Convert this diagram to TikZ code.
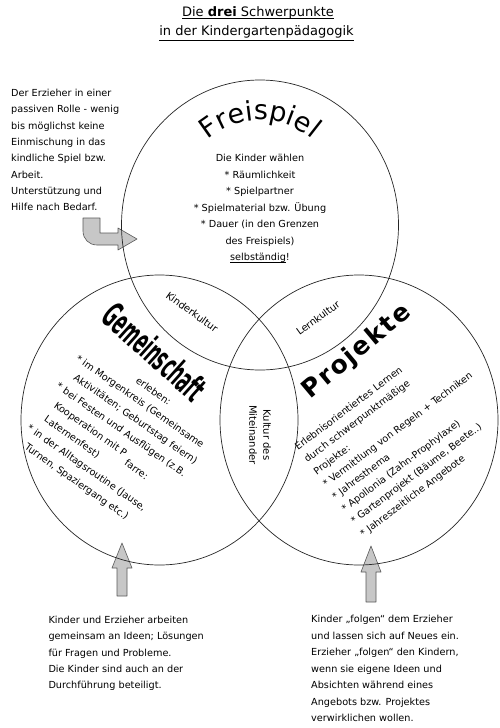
\documentclass[tikz,border=0pt]{standalone}
\usepackage{graphicx}
\usepackage{fontspec}
\setmainfont{DejaVu Sans}
\usetikzlibrary{decorations.text}
\newcommand\bodyfont{\fontsize{9.7}{16}\selectfont}
\newcommand\myuline[2][-1.8pt]{\setbox0\hbox{#2}\rlap{\rule[#1]{\wd0}{0.7pt}}#2}
\begin{document}
\begin{tikzpicture}[x=1pt,y=1pt,
  ring/.style={draw=black!85,line width=0.7pt},
  body/.style={font=\bodyfont,inner sep=0pt},
  lbl/.style={font=\fontsize{10}{14}\selectfont,inner sep=0pt},
  grayarrow/.style={fill=black!22,draw=black!65,line width=0.6pt,line join=round}]
\useasboundingbox (0,0) rectangle (500,-728);
\fill[white] (0,0) rectangle (500,-728);

% title
\node[font=\fontsize{13}{15}\selectfont,inner sep=0pt,anchor=base] (title1) at (258,-16.5) {\myuline[-2.5pt]{Die \textbf{drei} Schwerpunkte}};
\node[font=\fontsize{13}{15}\selectfont,inner sep=0pt,anchor=base] (title2) at (256.5,-35.5) {\myuline[-5pt]{in der Kindergartenpädagogik}};

% top-left text
\foreach \t [count=\i from 0] in {{Der Erzieher in einer},{passiven Rolle - wenig},{bis möglichst keine},{Einmischung in das},{kindliche Spiel bzw.},{Arbeit.},{Unterstützung und},{Hilfe nach Bedarf.}}
  \node[body,anchor=base west] (tl\i) at (11,{-96.5-16.3*\i}) {\t};

% Freispiel
\path[decorate,decoration={text along path,text={|\fontsize{27}{27}\selectfont|Freispiel},text align=center}]
  (260,-200) ++(132:80) arc[start angle=132,end angle=48,radius=80];
\foreach \t [count=\i from 0] in {{Die Kinder wählen},{* Räumlichkeit},{* Spielpartner},{* Spielmaterial bzw. Übung},{* Dauer (in den Grenzen},{des Freispiels)},{\myuline{selbständig}!}}
  \node[body,anchor=base] (fs\i) at (260,{-161.5-16.5*\i}) {\t};

% intersection labels
\node[lbl,rotate=-36] (kik) at (192,-312) {Kinderkultur};
\node[lbl,rotate=36] (lek) at (318,-318) {Lernkultur};
\node[lbl,rotate=-90,align=center] (kdm) at (260,-435) {Kultur des\\Miteinander};

% Gemeinschaft
\node[inner sep=0pt,rotate=-42] (gemT) at (155,-352) {\scalebox{0.46}[1]{\fontsize{35}{35}\selectfont\bfseries Gemeinschaft}};
\begin{scope}[shift={(75,-360)},rotate=-35]
  \node[body,anchor=base west,rotate=-35] (g0) at (62,16) {erleben:};
  \node[body,anchor=base west,rotate=-35] (g1) at (0,0) {* im Morgenkreis (Gemeinsame};
  \node[body,anchor=base west,rotate=-35] (g2) at (9,-17) {Aktivitäten; Geburtstag feiern)};
  \node[body,anchor=base west,rotate=-35] (g3) at (0,-34) {* bei Festen und Ausflügen (z.B.};
  \node[body,anchor=base west,rotate=-35] (g4) at (9,-51) {Kooperation mit P};
  \node[body,anchor=base west,rotate=-35] (g4b) at (100,-58) {farre:};
  \node[body,anchor=base west,rotate=-35] (g5) at (9,-68) {Laternenfest)};
  \node[body,anchor=base west,rotate=-35] (g6) at (0,-85) {* in der Alltagsroutine (Jause,};
  \node[body,anchor=base west,rotate=-35] (g7) at (9,-102) {Turnen, Spaziergang etc.)};
\end{scope}

% Projekte
\node[inner sep=0pt,rotate=40,font=\fontsize{25}{25}\selectfont\bfseries\addfontfeatures{LetterSpace=8}] (proT) at (357,-352) {Projekte};
\begin{scope}[shift={(298,-450.6)},rotate=37]
  \foreach \t [count=\i from 0] in {{Erlebnisorientiertes Lernen},{durch schwerpunktmäßige},{Projekte:},{* Vermittlung von Regeln + Techniken},{* Jahresthema},{* Apollonia (Zahn-Prophylaxe)},{* Gartenprojekt (Bäume, Beete..)},{* Jahreszeitliche Angebote}}
    \node[body,anchor=base west,rotate=37] (p\i) at (0,{-15.5*\i}) {\t};
\end{scope}

% bottom texts
\foreach \t [count=\i from 0] in {{Kinder und Erzieher arbeiten},{gemeinsam an Ideen; Lösungen},{für Fragen und Probleme.},{Die Kinder sind auch an der},{Durchführung beteiligt.}}
  \node[body,anchor=base west] (bl\i) at (48.3,{-623.5-16.25*\i}) {\t};
\foreach \t [count=\i from 0] in {{Kinder „folgen“ dem Erzieher},{und lassen sich auf Neues ein.},{Erzieher „folgen“ den Kindern,},{wenn sie eigene Ideen und},{Absichten während eines},{Angebots bzw. Projektes},{verwirklichen wollen.}}
  \node[body,anchor=base west] (br\i) at (311,{-622.5-16.5*\i}) {\t};

% arrows
\draw[grayarrow] (83,-218) -- (100,-218) -- (100,-233) -- (118,-233) -- (118,-228)
  -- (137,-239) -- (118,-250) -- (118,-245) -- (97,-245)
  .. controls (89,-245) and (83,-239) .. (83,-231) -- cycle;
\draw[grayarrow] (117,-596) -- (117,-568) -- (112,-568) -- (122,-543) -- (132,-568) -- (127,-568) -- (127,-596) -- cycle;
\draw[grayarrow] (366,-602) -- (366,-572) -- (361,-572) -- (371,-546) -- (381,-572) -- (376,-572) -- (376,-602) -- cycle;

% circles
\draw[ring] (260,-225) ellipse [x radius=138.5,y radius=145];
\draw[ring] (159.5,-420) ellipse [x radius=138.5,y radius=145];
\draw[ring] (359,-420) ellipse [x radius=139,y radius=145];
\end{tikzpicture}
\end{document}
